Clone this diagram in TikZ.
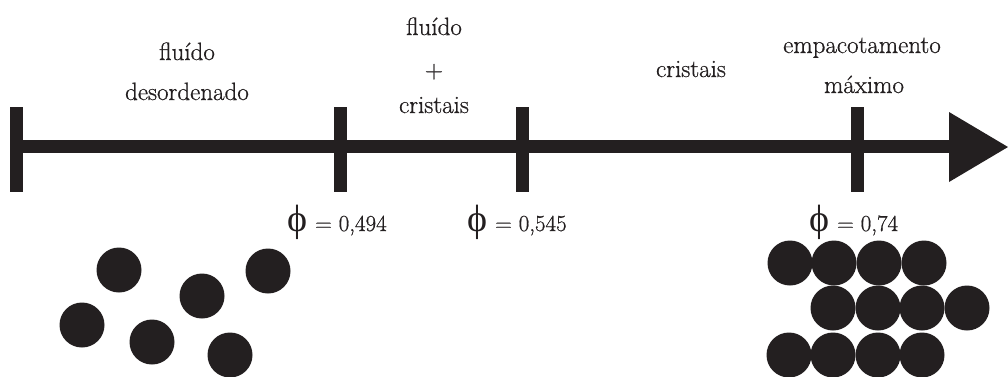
\documentclass[tikz,border=0pt]{standalone}
\usepackage{fontspec}
\setmainfont{Latin Modern Roman}[FakeBold=0.7]
\newfontfamily\phifont{Liberation Serif}
\definecolor{ink}{HTML}{231F20}
\newcommand{\phisym}{{\phifont\fontsize{38}{38}\selectfont ϕ}}
\begin{document}
\begin{tikzpicture}[x=1pt,y=-1pt,
  lbl/.style={anchor=base,inner sep=0pt,text=ink,font=\fontsize{25}{25}\selectfont},
  philbl/.style={anchor=base west,inner sep=0pt,text=ink,font=\fontsize{23}{23}\selectfont},
  disc/.style={circle,fill=ink,minimum size=45pt,inner sep=0pt}]
\useasboundingbox (0,0) rectangle (1008,376);
% axis
\fill[ink] (10,140) rectangle (951,153);
\fill[ink] (949,112) -- (1008,147) -- (949,182) -- cycle;
% ticks
\foreach \x in {16.5,340,522,857.5}{
  \fill[ink] (\x-6.5,107) rectangle (\x+6.5,192);
}
% region labels
\node[lbl] (t1a) at (187,60) {fluído};
\node[lbl] (t1b) at (187,100) {desordenado};
\node[lbl] (t2a) at (434,35) {fluído};
\node[lbl] (t2b) at (434,78) {+};
\node[lbl] (t2c) at (434,113) {cristais};
\node[lbl] (t3) at (691,77) {cristais};
\node[lbl] (t4a) at (862,53) {empacotamento};
\node[lbl] (t4b) at (864,93) {máximo};
% phi labels
\node[philbl] (p1) at (287,231) {\phisym\hspace{8pt}= 0,494};
\node[philbl] (p2) at (467,231) {\phisym\hspace{8pt}= 0,545};
\node[philbl] (p3) at (809,231) {\phisym\hspace{8pt}= 0,74};
% disordered discs
\foreach \cx/\cy [count=\i] in {119/270,202/296,268/271,82/325,152/342,230/355}{
  \node[disc] (d\i) at (\cx,\cy) {};
}
% packed discs
\foreach \cx/\cy [count=\i] in {790/263,834/263,879/263,924/263,
  833/308,878/308,922/308,967/308,
  789/355,833/355,878/355,922/355}{
  \node[disc] (c\i) at (\cx,\cy) {};
}
\end{tikzpicture}
\end{document}
